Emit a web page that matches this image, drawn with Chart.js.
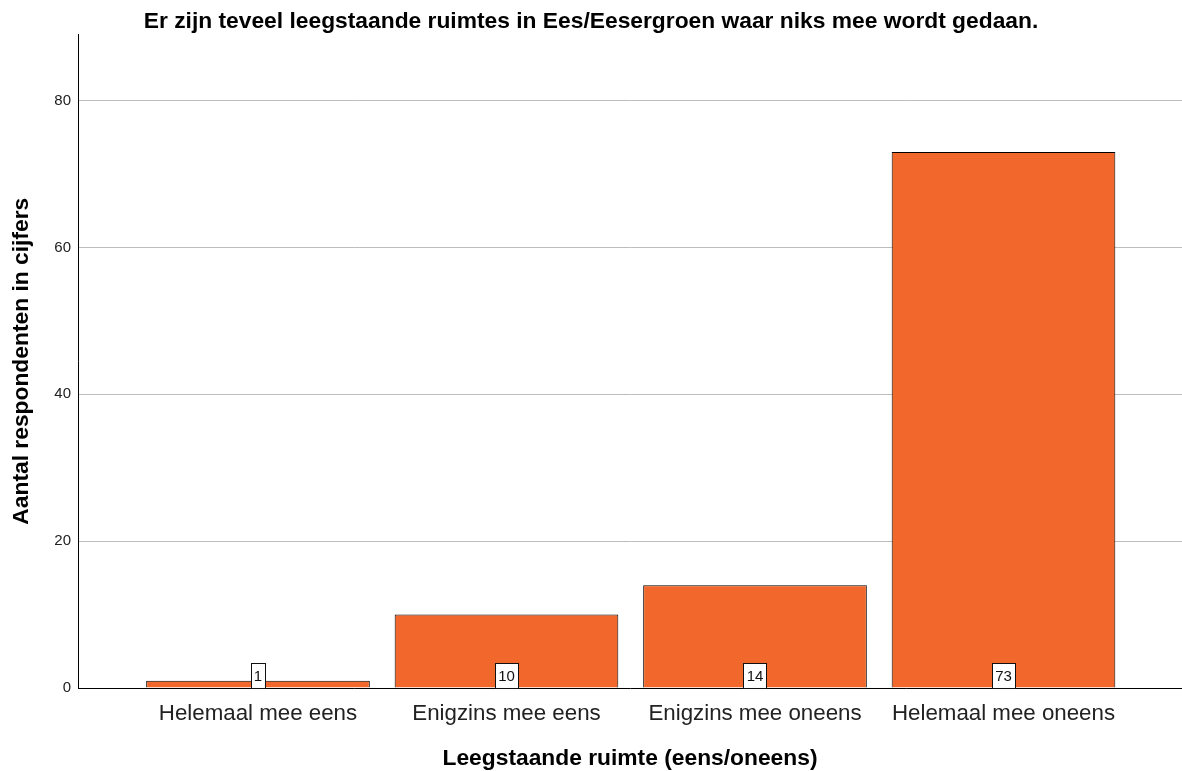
<!DOCTYPE html>
<html>
<head>
<meta charset="utf-8">
<script src="https://cdn.jsdelivr.net/npm/chart.js@4/dist/chart.umd.min.js"></script>
<style>
  html, body { margin: 0; padding: 0; background: #ffffff; }
  #wrap { width: 1182px; height: 771px; position: relative; }
</style>
</head>
<body>
<div id="wrap"><canvas id="c" width="1182" height="771"></canvas></div>
<script>
const chartTitle = 'Er zijn teveel leegstaande ruimtes in Ees/Eesergroen waar niks mee wordt gedaan.';
const xTitle = 'Leegstaande ruimte (eens/oneens)';
const yTitle = 'Aantal respondenten in cijfers';
const categories = ['Helemaal mee eens', 'Enigzins mee eens', 'Enigzins mee oneens', 'Helemaal mee oneens'];
const counts = [1, 10, 14, 73];
const yTicks = [0, 20, 40, 60, 80];

const FONT = "'Liberation Sans', Arial, sans-serif";

const valueBoxes = {
  id: 'valueBoxes',
  afterDatasetsDraw(chart) {
    const ctx = chart.ctx;
    const meta = chart.getDatasetMeta(0);
    const yBase = chart.scales.y.getPixelForValue(0);
    ctx.save();
    ctx.font = '15px ' + FONT;
    ctx.textAlign = 'center';
    ctx.textBaseline = 'middle';
    meta.data.forEach((bar, i) => {
      const txt = String(counts[i]);
      const w = Math.round(Math.max(ctx.measureText(txt).width + 6, 12));
      const h = 25;
      const x = Math.round(bar.x - w / 2) + 0.5;
      const y = Math.round(yBase - h - 0.5) + 0.5;
      ctx.fillStyle = '#ffffff';
      ctx.fillRect(x, y, w, h);
      ctx.strokeStyle = '#111111';
      ctx.lineWidth = 1;
      ctx.strokeRect(x, y, w, h);
      ctx.fillStyle = '#111111';
      ctx.fillText(txt, bar.x, y + h / 2 + 0.5);
    });
    ctx.restore();
  }
};

new Chart(document.getElementById('c'), {
  type: 'bar',
  data: {
    datasets: [{
      data: categories.map((c, i) => ({ x: i + 1, y: counts[i] })),
      backgroundColor: '#F2682C',
      borderColor: '#000000',
      borderWidth: 1,
      categoryPercentage: 0.9,
      barPercentage: 1.0
    }]
  },
  options: {
    responsive: false,
    animation: false,
    devicePixelRatio: 1,
    layout: { padding: { left: 0, right: 0, top: 0, bottom: 0.5 } },
    plugins: {
      legend: { display: false },
      tooltip: { enabled: false },
      title: {
        display: true,
        text: chartTitle,
        color: '#000000',
        font: { family: FONT, size: 22.8, weight: 'bold' },
        padding: { top: 8.5, bottom: -1.4 }
      }
    },
    scales: {
      x: {
        type: 'linear',
        offset: false,
        min: 0.2757,
        max: 4.7183,
        grid: { display: false, offset: false, drawTicks: false },
        border: { display: true, color: '#000000', width: 1 },
        afterBuildTicks(scale) {
          scale.ticks = categories.map((c, i) => ({ value: i + 1 }));
        },
        afterFit(scale) { scale.height = 82.5; },
        ticks: {
          autoSkip: false,
          maxRotation: 0,
          includeBounds: false,
          padding: 12.5,
          color: '#222222',
          font: { family: FONT, size: 22.3 },
          callback: (v) => categories[Math.round(v) - 1] || ''
        },
        title: {
          display: true,
          text: xTitle,
          color: '#000000',
          font: { family: FONT, size: 22.8, weight: 'bold' },
          padding: { top: 0, bottom: -2 }
        }
      },
      y: {
        min: 0,
        max: 89,
        afterBuildTicks(scale) {
          scale.ticks = yTicks.map(v => ({ value: v }));
        },
        afterFit(scale) { scale.width = 78; },
        grid: {
          color: '#bdbdbd',
          lineWidth: 1,
          drawTicks: false
        },
        border: { display: true, color: '#000000', width: 1 },
        ticks: {
          includeBounds: false,
          padding: 7,
          color: '#222222',
          font: { family: FONT, size: 15 }
        },
        title: {
          display: true,
          text: yTitle,
          color: '#000000',
          font: { family: FONT, size: 22.8, weight: 'bold' },
          padding: { top: 8.5, bottom: 0 }
        }
      }
    }
  },
  plugins: [valueBoxes]
});
</script>
</body>
</html>
